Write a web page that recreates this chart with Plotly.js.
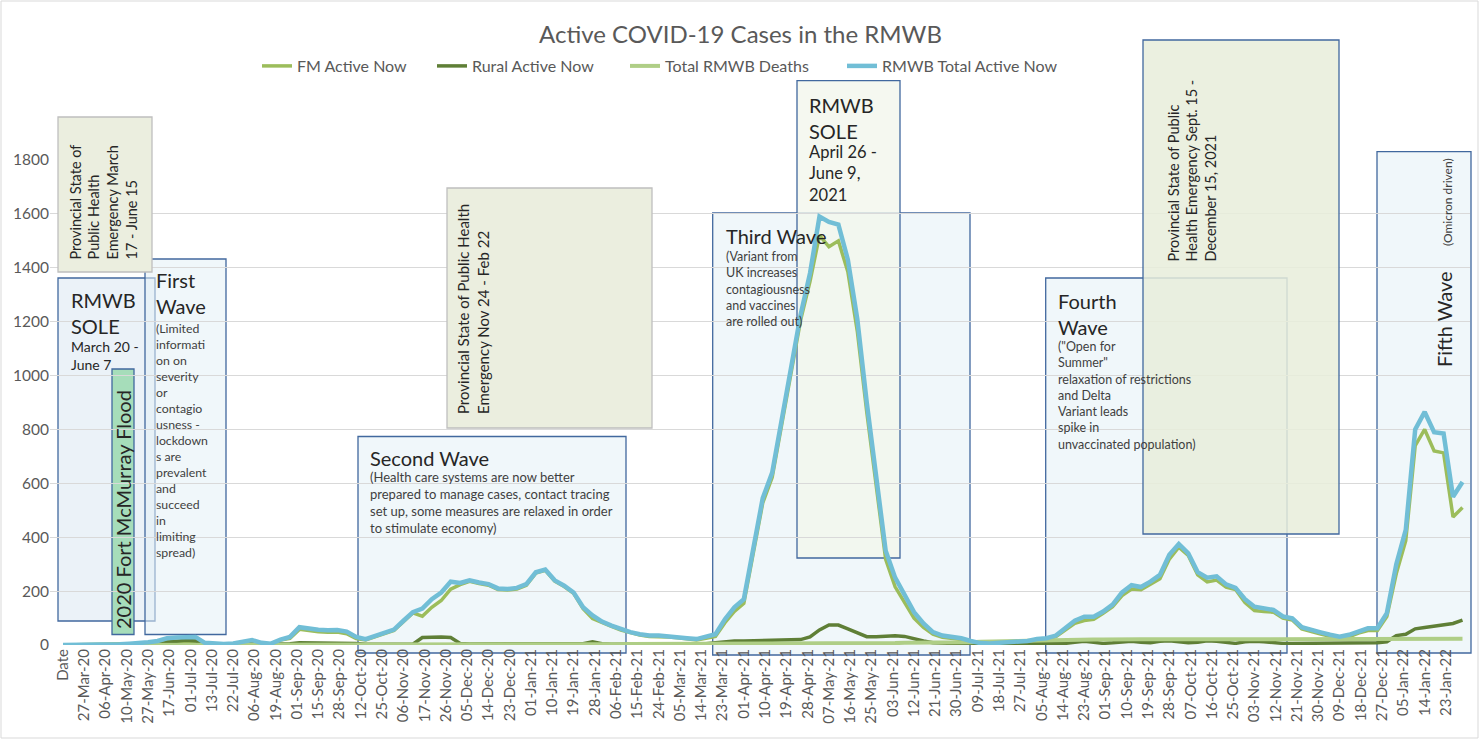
<!DOCTYPE html>
<html>
<head>
<meta charset="utf-8">
<script src="https://cdn.plot.ly/plotly-3.0.1.min.js"></script>
<style>
  html, body { margin: 0; padding: 0; background: #ffffff; }
  #chart { width: 1481px; height: 740px; }
</style>
</head>
<body>
<div id="chart"></div>
<script>
// ---------- DATA ----------
// Category labels shown on the x axis (one label every 9 categories)
const tickLabels = ["Date","27-Mar-20","06-Apr-20","10-May-20","27-May-20","17-Jun-20","01-Jul-20","13-Jul-20","22-Jul-20","06-Aug-20",
  "19-Aug-20","01-Sep-20","15-Sep-20","28-Sep-20","12-Oct-20","25-Oct-20","06-Nov-20","17-Nov-20","26-Nov-20","05-Dec-20",
  "14-Dec-20","23-Dec-20","01-Jan-21","10-Jan-21","19-Jan-21","28-Jan-21","06-Feb-21","15-Feb-21","24-Feb-21","05-Mar-21",
  "14-Mar-21","23-Mar-21","01-Apr-21","10-Apr-21","19-Apr-21","28-Apr-21","07-May-21","16-May-21","25-May-21","03-Jun-21",
  "12-Jun-21","21-Jun-21","30-Jun-21","09-Jul-21","18-Jul-21","27-Jul-21","05-Aug-21","14-Aug-21","23-Aug-21","01-Sep-21",
  "10-Sep-21","19-Sep-21","28-Sep-21","07-Oct-21","16-Oct-21","25-Oct-21","03-Nov-21","12-Nov-21","21-Nov-21","30-Nov-21",
  "09-Dec-21","18-Dec-21","27-Dec-21","05-Jan-22","14-Jan-22","23-Jan-22"];
const LABEL_EVERY = 9;   // categories between two labels
const SAMPLE_EVERY = 4;  // categories between two sampled values below

// RMWB Total Active Now (sampled every 4 categories)
const totalActive = [
  0,0,0,2,3,4,3,5,6,10,
  15,25,28,30,30,8,5,4,6,10,
  18,8,5,20,30,66,60,57,55,56,
  50,30,22,35,45,57,90,122,135,170,
  195,235,230,240,232,226,210,208,212,226,
  270,280,240,220,195,140,110,87,72,58,
  48,40,35,35,33,30,25,22,30,40,
  95,140,170,355,545,640,840,1030,1225,1380,
  1590,1570,1560,1430,1210,900,620,350,250,190,
  122,80,48,35,31,25,15,7,6,8,
  8,10,15,22,25,35,60,90,105,105,
  124,150,195,222,215,235,260,335,375,340,
  270,250,255,225,212,170,142,136,130,106,
  99,66,55,47,38,31,38,52,62,62,
  118,300,427,800,865,790,785,550,605];

// FM Active Now
const fmActive = [
  0,0,0,2,3,4,3,5,6,10,
  13,15,13,12,15,5,3,2,4,8,
  16,6,3,18,25,58,52,49,47,48,
  42,24,19,32,42,54,87,119,107,140,
  165,207,224,236,228,222,206,204,208,222,
  267,277,237,217,192,135,98,82,69,55,
  45,37,32,32,30,27,22,19,25,32,
  83,125,155,339,527,622,820,1010,1205,1350,
  1520,1478,1500,1385,1165,865,590,318,216,158,
  100,65,40,29,26,20,10,2,2,4,
  4,6,11,18,21,31,54,80,91,95,
  118,142,183,208,205,227,246,319,363,332,
  260,234,241,215,206,158,128,124,122,100,
  93,60,49,41,32,23,30,44,54,54,
  106,265,387,740,800,720,713,475,510];

// Rural Active Now
const ruralActive = [
  0,0,0,0,0,0,0,0,0,0,
  2,10,15,18,15,3,2,2,2,2,
  2,2,2,2,5,8,8,8,8,8,
  8,6,3,3,3,3,3,3,28,30,
  30,28,6,4,4,4,4,4,4,4,
  3,3,3,3,3,5,12,5,3,3,
  3,3,3,3,3,3,3,3,5,8,
  12,15,15,16,18,18,20,20,20,30,
  56,74,74,60,44,31,31,33,34,32,
  22,15,8,6,5,5,5,5,4,4,
  4,4,4,4,4,4,6,10,14,10,
  6,8,12,14,10,8,14,16,12,8,
  10,16,14,10,6,12,14,12,8,6,
  6,6,6,6,6,8,8,8,8,8,
  12,35,40,60,65,70,72,80,92];

// Total RMWB Deaths
const totalDeaths = [
  0,0,0,0,0,0,0,0,0,0,
  0,0,0,0,0,0,0,0,0,0,
  0,0,0,0,0,1,1,1,1,1,
  1,1,1,1,1,1,1,1,2,2,
  2,2,2,2,2,2,2,2,2,2,
  2,3,3,3,3,3,3,3,3,3,
  4,4,4,4,4,4,4,4,5,5,
  5,5,5,5,5,5,6,6,6,6,
  6,6,6,7,7,7,7,7,7,8,
  8,8,8,8,10,10,10,12,12,13,
  14,15,16,17,18,19,20,20,20,20,
  20,21,21,21,21,21,21,21,21,21,
  21,21,21,21,21,21,22,22,22,22,
  22,22,22,22,22,22,22,22,22,22,
  22,23,23,23,23,23,23,23,23];

// ---------- CHART ----------
const FONT = 'Lato, "Open Sans", "Liberation Sans", sans-serif';
const xs = totalActive.map((_, k) => k * SAMPLE_EVERY);
const tickVals = tickLabels.map((_, k) => k * LABEL_EVERY);

function line(name, y, color, width, legendId) {
  return { type: 'scatter', mode: 'lines', name: name, x: xs, y: y, legend: legendId,
           line: { color: color, width: width }, hoverinfo: 'skip' };
}
const traces = [
  line('FM Active Now', fmActive, '#9CBD5B', 3.5, 'legend'),
  line('Rural Active Now', ruralActive, '#5F7F36', 3.5, 'legend2'),
  line('Total RMWB Deaths', totalDeaths, '#AFCE86', 4, 'legend3'),
  line('RMWB Total Active Now', totalActive, '#71BED6', 4.5, 'legend4')
];

// plot area in pixels (for placing the text boxes on the page)
const L = 50, R = 1470, T = 160, B = 645;
const px = v => (v - L) / (R - L);
const py = v => (B - v) / (B - T);

const WAVE_FILL = 'rgba(228,241,246,0.55)';
const EDGE = '#41689E';
function box(x0, x1, yTop, yBot, fill, edge, layer) {
  return { type: 'rect', xref: 'paper', yref: 'paper',
           x0: px(x0), x1: px(x1), y0: py(yBot), y1: py(yTop),
           fillcolor: fill, line: { color: edge, width: 1.3 }, layer: layer };
}
const shapes = [
  { type: 'rect', xref: 'paper', yref: 'paper', x0: px(1), x1: px(1478), y0: py(738), y1: py(1),
    fillcolor: 'rgba(0,0,0,0)', line: { color: '#D9D9D9', width: 1 }, layer: 'below' },
  box(58, 155, 278, 621, 'rgba(222,234,243,0.6)', EDGE, 'below'),      // RMWB SOLE 2020
  box(112, 134, 369, 634.5, '#A6DDBA', EDGE, 'below'),                 // flood
  box(145, 226, 259, 634.5, WAVE_FILL, EDGE, 'below'),                 // first wave
  box(358, 626, 436.5, 653, WAVE_FILL, EDGE, 'below'),                 // second wave
  box(712.7, 970, 213, 655, WAVE_FILL, EDGE, 'below'),                 // third wave
  box(797, 900, 80.7, 558, 'rgba(243,246,236,0.8)', EDGE, 'below'),    // RMWB SOLE 2021
  box(1045.7, 1287, 278, 653, WAVE_FILL, EDGE, 'below'),               // fourth wave
  box(1377, 1471, 151.7, 653, WAVE_FILL, EDGE, 'below'),               // fifth wave
  box(58, 152, 117, 272, '#EBEEDF', '#BFBFBF', 'above'),               // emergency 2020
  box(447, 652, 188, 428, '#EBEEDF', '#BFBFBF', 'above'),              // emergency Nov-Feb
  box(1143, 1339, 40, 534, 'rgba(232,237,218,0.85)', EDGE, 'above')    // emergency Sept-Dec
];

function note(text, x, y, size, opts) {
  return Object.assign({ xref: 'paper', yref: 'paper', x: px(x), y: py(y), text: text,
    showarrow: false, xanchor: 'left', yanchor: 'top', align: 'left',
    font: { family: FONT, size: size, color: '#262626' } }, opts || {});
}
const SMALL = '#3F3F3F';
const rot = { textangle: -90, xanchor: 'left', yanchor: 'bottom' };
const annotations = [
  note('Provincial State of<br>Public Health<br>Emergency March<br>17 - June 15', 64, 262, 14.5, rot),
  note('RMWB<br>SOLE', 69, 286, 20),
  note('March 20 -<br>June 7', 69, 336, 14),
  note('2020 Fort McMurray Flood', 123, 510, 20, { textangle: -90, xanchor: 'center', yanchor: 'middle' }),
  note('First<br>Wave', 154, 266, 20),
  note('(Limited<br>informati<br>on on<br>severity<br>or<br>contagio<br>usness -<br>lockdown<br>s are<br>prevalent<br>and<br>succeed<br>in<br>limiting<br>spread)',
       154, 319, 12.3, { font: { family: FONT, size: 12.3, color: SMALL } }),
  note('Second Wave', 368, 444, 20),
  note('(Health care systems are now better<br>prepared to manage cases, contact tracing<br>set up, some measures are relaxed in order<br>to stimulate economy)',
       368, 467, 13, { font: { family: FONT, size: 13, color: SMALL } }),
  note('Provincial State of Public Health<br>Emergency Nov 24 - Feb 22', 452, 416, 15, rot),
  note('Third Wave', 724, 222, 20),
  note('(Variant from<br>UK increases<br>contagiousness<br>and vaccines<br>are rolled out)', 724, 247, 12.5,
       { font: { family: FONT, size: 12.5, color: SMALL } }),
  note('RMWB<br>SOLE', 807, 91, 20),
  note('April 26 -<br>June 9,<br>2021', 807, 140, 16.5),
  note('Provincial State of Public<br>Health Emergency Sept. 15 -<br>December 15, 2021', 1162, 264, 14.5, rot),
  note('Fourth<br>Wave', 1056, 287, 20),
  note('("Open for<br>Summer"<br>relaxation of restrictions<br>and Delta<br>Variant leads<br>spike in<br>unvaccinated population)',
       1056, 337, 12.5, { font: { family: FONT, size: 12.5, color: SMALL } }),
  note('Fifth Wave', 1444, 319, 20, { textangle: -90, xanchor: 'center', yanchor: 'middle' }),
  note('(Omicron driven)', 1447, 202, 12, { textangle: -90, xanchor: 'center', yanchor: 'middle',
       font: { family: FONT, size: 12, color: SMALL } })
];

function legendAt(xPix) {
  return { orientation: 'h', x: px(xPix), xanchor: 'left', y: py(66), yanchor: 'middle',
           font: { family: FONT, size: 16, color: '#595959' }, bgcolor: 'rgba(0,0,0,0)' };
}

const layout = {
  width: 1481, height: 740,
  margin: { l: L, r: 1481 - R, t: T, b: 740 - B, pad: 0 },
  paper_bgcolor: '#ffffff', plot_bgcolor: 'rgba(0,0,0,0)',
  font: { family: FONT, color: '#595959' },
  title: { text: 'Active COVID-19 Cases in the RMWB', x: 0.5, xanchor: 'center',
           y: 1 - 35 / 740, yanchor: 'middle', font: { family: FONT, size: 24, color: '#595959' } },
  showlegend: true,
  legend: legendAt(257),
  legend2: legendAt(432),
  legend3: legendAt(625),
  legend4: legendAt(842),
  xaxis: { range: [(L - 63) / 2.364, (R - 63) / 2.364], tickmode: 'array', tickvals: tickVals,
           ticktext: tickLabels, tickangle: -90, tickfont: { family: FONT, size: 15, color: '#595959' },
           showgrid: false, zeroline: false, showline: false, ticks: '', fixedrange: true },
  yaxis: { range: [0, 1800], tickmode: 'linear', tick0: 0, dtick: 200,
           tickfont: { family: FONT, size: 15.5, color: '#595959' }, gridcolor: '#D9D9D9', gridwidth: 1,
           zeroline: false, showline: false, ticks: '', fixedrange: true },
  shapes: shapes,
  annotations: annotations,
  hovermode: false
};

Plotly.newPlot('chart', traces, layout, { staticPlot: true, displayModeBar: false });
</script>
</body>
</html>
